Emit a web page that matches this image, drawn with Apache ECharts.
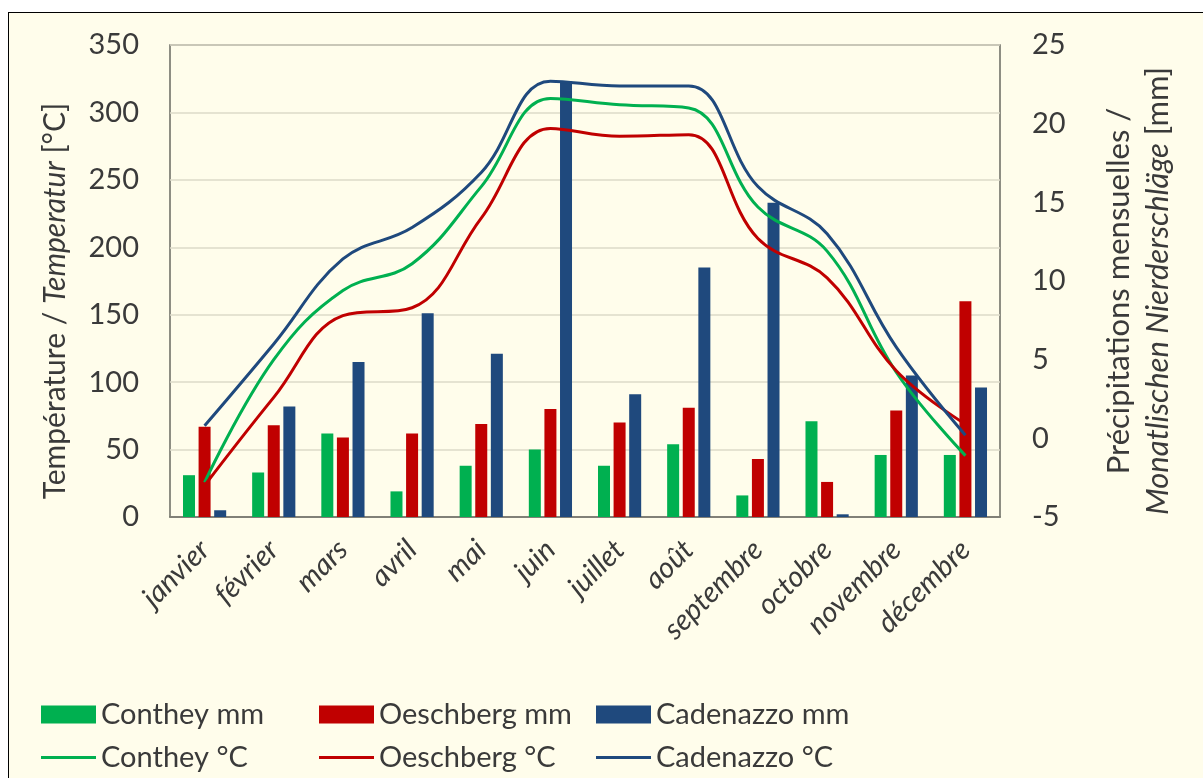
<!DOCTYPE html>
<html>
<head>
<meta charset="utf-8">
<script src="https://cdn.jsdelivr.net/npm/echarts@6/dist/echarts.min.js"></script>
<style>
  html, body { margin: 0; padding: 0; background: #ffffff; }
  #bg { position: absolute; left: 8px; top: 12px; width: 1400px; height: 1000px; background: #FFFDEB; border: 1.5px solid #000; }
  #chart { position: absolute; left: 0; top: 0; width: 1203px; height: 778px; }
</style>
</head>
<body>
<div id="bg"></div>
<div id="chart"></div>
<script>
const months = ['janvier', 'février', 'mars', 'avril', 'mai', 'juin', 'juillet', 'août', 'septembre', 'octobre', 'novembre', 'décembre'];
const contheyMm = [31, 33, 62, 19, 38, 50, 38, 54, 16, 71, 46, 46];
const oeschbergMm = [67, 68, 59, 62, 69, 80, 70, 81, 43, 26, 79, 160];
const cadenazzoMm = [5, 82, 115, 151, 121, 323, 91, 185, 233, 2, 105, 96];
const contheyC = [-2.8, 5.0, 9.4, 11.1, 16.0, 21.6, 21.2, 21.0, 14.7, 11.9, 4.2, -1.1];
const oeschbergC = [-3.0, 2.6, 7.8, 8.3, 14.0, 19.7, 19.2, 19.3, 12.7, 10.2, 4.3, 0.9];
const cadenazzoC = [0.8, 6.0, 11.4, 13.4, 16.9, 22.7, 22.4, 22.4, 16.0, 13.0, 5.8, 0.2];
const leftTicks = { min: 0, max: 350, interval: 50 };
const rightTicks = { min: -5, max: 25, interval: 5 };

const FONT = 'Lato';
const FS = 29;
const TXT = '#3a3a3a';
const GREEN = '#00B050', RED = '#C00000', BLUE = '#1F497D';

const chart = echarts.init(document.getElementById('chart'), null, { renderer: 'canvas' });

function legendAt(name, left, top, isBar) {
  return {
    data: [{ name: name, icon: 'rect' }],
    left: left, top: top, padding: 0,
    itemWidth: 55, itemHeight: isBar ? 18 : 3,
    textStyle: { fontFamily: FONT, fontSize: FS, color: TXT },
    selectedMode: false
  };
}

const barBase = { type: 'bar', barWidth: 12, barGap: '30%', yAxisIndex: 0, z: 2 };
const lineBase = { type: 'line', yAxisIndex: 1, smooth: 0.4, symbol: 'none', showSymbol: false, z: 5 };

chart.setOption({
  backgroundColor: 'transparent',
  animation: false,
  grid: { left: 170, right: 203, top: 45, bottom: 261, show: true, borderColor: '#6a6a62', borderWidth: 1.5, backgroundColor: 'transparent' },
  legend: [
    legendAt('Conthey mm', 41, 700, true),
    legendAt('Oeschberg mm', 319, 700, true),
    legendAt('Cadenazzo mm', 596, 700, true),
    legendAt('Conthey °C', 41, 743, false),
    legendAt('Oeschberg °C', 319, 743, false),
    legendAt('Cadenazzo °C', 596, 743, false)
  ],
  xAxis: {
    type: 'category', data: months,
    axisLine: { show: true, lineStyle: { color: '#6a6a62', width: 1.5 } },
    axisTick: { show: false },
    axisLabel: { rotate: 45, margin: 28, interval: 0, fontFamily: FONT, fontSize: FS, fontStyle: 'italic', color: TXT }
  },
  yAxis: [
    {
      type: 'value', min: leftTicks.min, max: leftTicks.max, interval: leftTicks.interval, position: 'left',
      axisLine: { show: false }, axisTick: { show: false },
      axisLabel: { margin: 31, fontFamily: FONT, fontSize: FS, color: TXT },
      splitLine: { show: true, lineStyle: { color: '#DCDAC8', width: 1.5 } }
    },
    {
      type: 'value', min: rightTicks.min, max: rightTicks.max, interval: rightTicks.interval, position: 'right',
      axisLine: { show: false }, axisTick: { show: false },
      axisLabel: { margin: 32, fontFamily: FONT, fontSize: FS, color: TXT },
      splitLine: { show: false }
    }
  ],
  graphic: [
    {
      type: 'text', x: 55, y: 301, rotation: Math.PI / 2,
      style: {
        text: 'Température / {i|Temperatur} [°C]',
        fontFamily: FONT, fontSize: 30, fill: TXT,
        align: 'center', verticalAlign: 'middle',
        rich: { i: { fontFamily: FONT, fontSize: 30, fontStyle: 'italic', fill: TXT } }
      }
    },
    {
      type: 'text', x: 1138, y: 291, rotation: Math.PI / 2,
      style: {
        text: 'Précipitations mensuelles /\n{i|Monatlischen Nierderschläge} [mm]',
        fontFamily: FONT, fontSize: 31, fill: TXT, lineHeight: 39,
        align: 'center', verticalAlign: 'middle',
        rich: { i: { fontFamily: FONT, fontSize: 31, fontStyle: 'italic', fill: TXT, lineHeight: 39 } }
      }
    }
  ],
  series: [
    Object.assign({}, barBase, { name: 'Conthey mm', data: contheyMm, itemStyle: { color: GREEN } }),
    Object.assign({}, barBase, { name: 'Oeschberg mm', data: oeschbergMm, itemStyle: { color: RED } }),
    Object.assign({}, barBase, { name: 'Cadenazzo mm', data: cadenazzoMm, itemStyle: { color: BLUE } }),
    Object.assign({}, lineBase, { name: 'Conthey °C', data: contheyC, itemStyle: { color: GREEN }, lineStyle: { color: GREEN, width: 3 } }),
    Object.assign({}, lineBase, { name: 'Oeschberg °C', data: oeschbergC, itemStyle: { color: RED }, lineStyle: { color: RED, width: 3 } }),
    Object.assign({}, lineBase, { name: 'Cadenazzo °C', data: cadenazzoC, itemStyle: { color: BLUE }, lineStyle: { color: BLUE, width: 3 } })
  ]
});
</script>
</body>
</html>
